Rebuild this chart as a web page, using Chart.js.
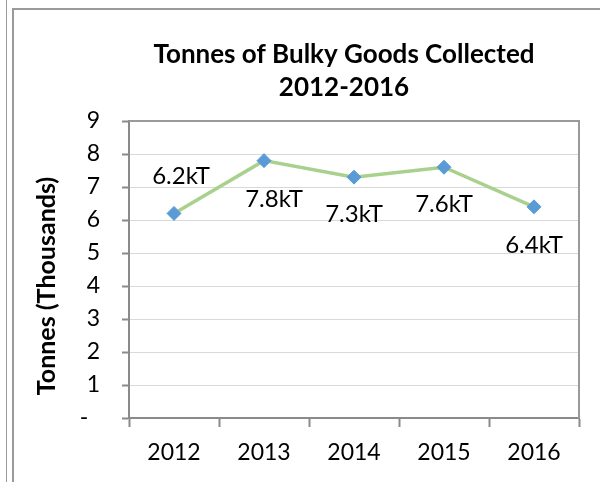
<!DOCTYPE html>
<html>
<head>
<meta charset="utf-8">
<script src="https://cdn.jsdelivr.net/npm/chart.js@4"></script>
<style>
    body { margin: 0; background: #ffffff; }
    #wrap { position: relative; width: 600px; height: 482px; }
    .frame { position: absolute; background: #9a9a9a; }
    canvas { position: absolute; left: 0; top: 0; }
</style>
</head>
<body>
<div id="wrap">
    <div class="frame" style="left:6px; top:0; width:1px; height:482px;"></div>
    <div class="frame" style="left:12px; top:8px; width:2px; height:474px;"></div>
    <div class="frame" style="left:12px; top:8px; width:588px; height:2px;"></div>
    <canvas id="bulkyChart" width="600" height="482"></canvas>
</div>
<script>
var years = ['2012', '2013', '2014', '2015', '2016'];
var tonnes = [6.2, 7.8, 7.3, 7.6, 6.4];
var valueLabels = ['6.2kT', '7.8kT', '7.3kT', '7.6kT', '6.4kT'];

// where each value label sits relative to its point (style only)
var labelDx = [7, 10, 0, 0, 0];
var labelDy = [-37, 39, 37, 37, 38];

var FONT = 'Lato, "Liberation Sans", sans-serif';

// value labels next to the markers
var valueLabelPlugin = {
    id: 'valueLabels',
    afterDatasetsDraw: function (chart) {
        var ctx = chart.ctx;
        var meta = chart.getDatasetMeta(0);
        ctx.save();
        ctx.font = '24px ' + FONT;
        ctx.fillStyle = '#000000';
        ctx.textAlign = 'center';
        ctx.textBaseline = 'middle';
        meta.data.forEach(function (pt, i) {
            ctx.fillText(valueLabels[i], pt.x + labelDx[i], pt.y + labelDy[i]);
        });
        ctx.restore();
    }
};

// plot area outline (top / right) + rotated y title
var plotFramePlugin = {
    id: 'plotFrame',
    afterLayout: function (chart) {
        // centre the title like the original
        chart.titleBlock.left = 100;
        chart.titleBlock.right = 588;
    },
    beforeDatasetsDraw: function (chart) {
        var a = chart.chartArea;
        var ctx = chart.ctx;
        ctx.save();
        ctx.strokeStyle = '#9a9a9a';
        ctx.lineWidth = 2;
        ctx.beginPath();
        ctx.moveTo(a.left, a.top);
        ctx.lineTo(a.right, a.top);
        ctx.lineTo(a.right, a.bottom);
        ctx.stroke();
        ctx.restore();
    },
    afterDraw: function (chart) {
        var ctx = chart.ctx;
        ctx.save();
        ctx.translate(47, 286);
        ctx.rotate(-Math.PI / 2);
        ctx.font = 'bold 25px ' + FONT;
        ctx.fillStyle = '#000000';
        ctx.textAlign = 'center';
        ctx.textBaseline = 'middle';
        ctx.fillText('Tonnes (Thousands)', 0, 0);
        ctx.restore();
    }
};

var lineChart = new Chart(document.getElementById('bulkyChart'), {
    type: 'line',
    data: {
        labels: years,
        datasets: [{
            label: 'Tonnes',
            data: tonnes,
            borderColor: '#a9d18e',
            borderWidth: 3.5,
            pointStyle: 'rectRot',
            pointRadius: 7,
            pointHoverRadius: 7,
            pointBackgroundColor: '#5b9bd5',
            pointBorderColor: '#5b9bd5',
            pointBorderWidth: 1,
            tension: 0
        }]
    },
    options: {
        responsive: false,
        devicePixelRatio: 1,
        animation: false,
        layout: {
            padding: {left: 14, right: 21, top: 0, bottom: 0}
        },
        plugins: {
            legend: {display: false},
            tooltip: {enabled: false},
            title: {
                display: true,
                text: ['Tonnes of Bulky Goods Collected', '2012-2016'],
                color: '#000000',
                font: {family: FONT, size: 26, weight: 'bold', lineHeight: 1.27},
                padding: {top: 38, bottom: 17}
            }
        },
        scales: {
            x: {
                offset: true,
                grid: {
                    offset: true,
                    drawOnChartArea: false,
                    drawTicks: true,
                    tickLength: 9,
                    tickColor: '#8a8a8a',
                    tickWidth: 2
                },
                border: {color: '#8a8a8a', width: 2},
                ticks: {
                    color: '#000000',
                    font: {family: FONT, size: 23},
                    padding: 12,
                    maxRotation: 0
                },
                afterFit: function (scale) {
                    scale.height = 64;
                }
            },
            y: {
                min: 0,
                max: 9,
                grid: {
                    color: '#d9d9d9',
                    lineWidth: 1,
                    tickLength: 7,
                    tickColor: '#8a8a8a',
                    tickWidth: 2
                },
                border: {color: '#8a8a8a', width: 2},
                ticks: {
                    stepSize: 1,
                    color: '#000000',
                    font: {family: FONT, size: 23},
                    padding: 22,
                    callback: function (value) {
                        return value === 0 ? '-  ' : value;
                    }
                },
                afterFit: function (scale) {
                    scale.width = 115;
                }
            }
        }
    },
    plugins: [valueLabelPlugin, plotFramePlugin]
});
</script>
</body>
</html>
